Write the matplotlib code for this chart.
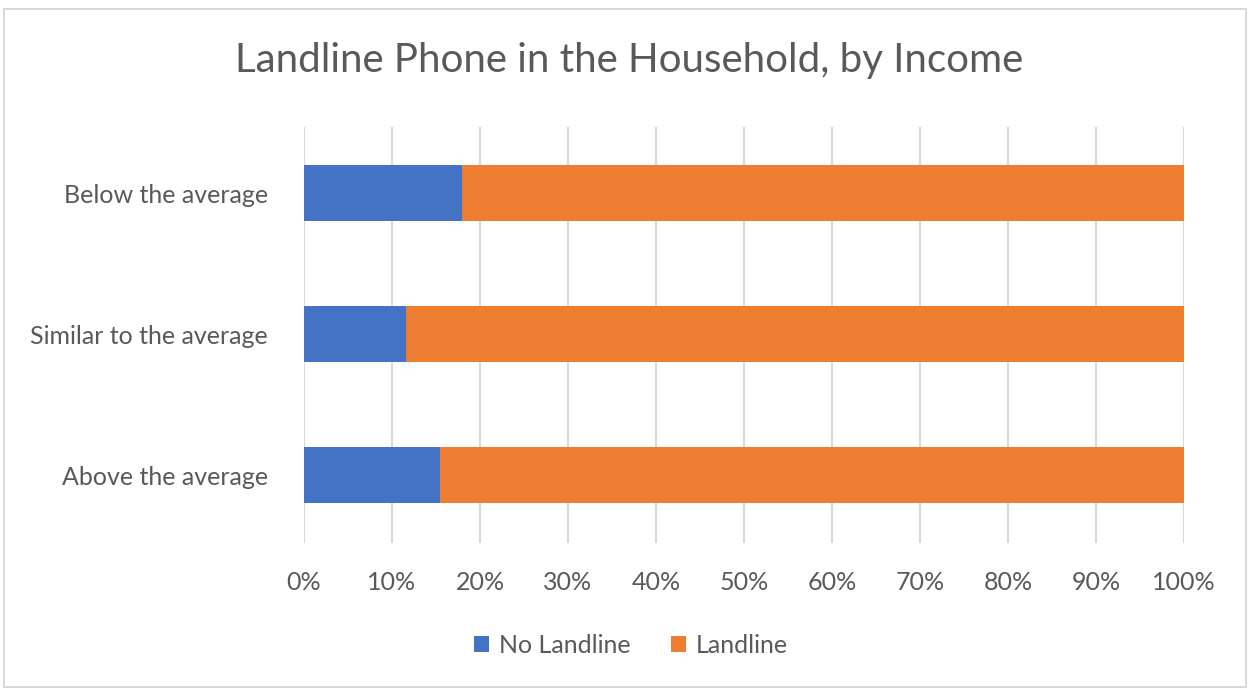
import matplotlib.pyplot as plt
from matplotlib.patches import Rectangle
from matplotlib.ticker import PercentFormatter

# data (top to bottom as in the chart)
categories = ['Below the average', 'Similar to the average', 'Above the average']
no_landline = [18.0, 11.6, 15.5]
landline = [82.0, 88.4, 84.5]

blue = '#4472C4'
orange = '#ED7D31'
grey_text = '#595959'

plt.rcParams['font.family'] = ['Lato', 'DejaVu Sans']

fig = plt.figure(figsize=(12.5, 6.88), dpi=100)
ax = fig.add_axes([0.2432, 0.2108, 0.704, 0.6046])

# chart area border
fig.patches.append(Rectangle((0.003, 0.002), 0.994, 0.985, transform=fig.transFigure,
                             fill=False, edgecolor='#d9d9d9', linewidth=1.5))

y = list(range(len(categories)))[::-1]
ax.barh(y, no_landline, height=0.4, color=blue, label='No Landline', zorder=3)
ax.barh(y, landline, left=no_landline, height=0.4, color=orange, label='Landline', zorder=3)

ax.set_xlim(0, 100)
ax.set_ylim(-0.48, 2.47)
ax.set_xticks(range(0, 101, 10))
ax.xaxis.set_major_formatter(PercentFormatter(decimals=0))
ax.set_yticks(y)
ax.set_yticklabels(categories)
ax.grid(axis='x', color='#d9d9d9', linewidth=1.5, zorder=0)
for s in ax.spines.values():
    s.set_visible(False)
ax.tick_params(axis='both', length=0, labelsize=18, labelcolor=grey_text)
ax.tick_params(axis='y', pad=26)
ax.tick_params(axis='x', pad=20)

fig.text(0.503, 0.912, 'Landline Phone in the Household, by Income', ha='center', va='center',
         fontsize=29, color=grey_text)

fig.legend(loc='center', bbox_to_anchor=(0.505, 0.062), ncol=2, frameon=False,
           fontsize=18, handlelength=0.6, handleheight=0.6, handletextpad=0.4,
           columnspacing=1.6, labelcolor=grey_text)

fig.savefig('out.png', dpi=100)
